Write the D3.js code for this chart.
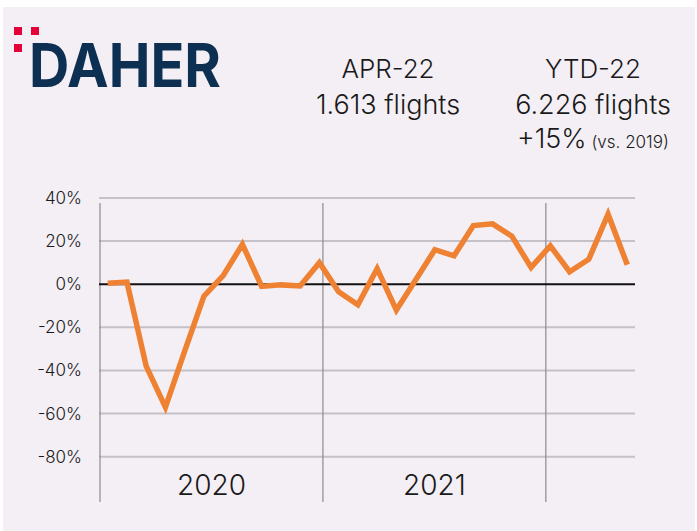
<!DOCTYPE html>
<html>
<head>
<meta charset="utf-8">
<script src="https://cdn.jsdelivr.net/npm/d3@7"></script>
<style>
  body { margin: 0; background: #ffffff; }
  svg { display: block; font-family: Inter, "Noto Sans", sans-serif; font-weight: 300; }
</style>
</head>
<body>
<svg id="chart"></svg>
<script>
// monthly change in flights vs 2019
var months = ["Jan-20","Feb-20","Mar-20","Apr-20","May-20","Jun-20","Jul-20","Aug-20","Sep-20","Oct-20","Nov-20","Dec-20",
  "Jan-21","Feb-21","Mar-21","Apr-21","May-21","Jun-21","Jul-21","Aug-21","Sep-21","Oct-21","Nov-21","Dec-21",
  "Jan-22","Feb-22","Mar-22","Apr-22"];
var changes = [0.5, 1, -38, -57, -31, -5.5, 4, 18.5, -1, -0.3, -0.8, 10,
  -3.5, -9.5, 7.2, -12, 2, 16, 13.2, 27.2, 28, 22.3, 7.8, 17.8,
  5.8, 11.6, 32.5, 9];
var years = ["2020", "2021", "2022"];
var yearLabels = ["2020", "2021"];
var yTicks = [40, 20, 0, -20, -40, -60, -80];

var width = 697, height = 531;

var svg = d3.select("#chart")
  .attr("width", width)
  .attr("height", height);

// background panel
svg.append("rect")
  .attr("x", 3).attr("y", 7)
  .attr("width", 692).attr("height", 524)
  .attr("fill", "#f3eff5");

// logo
svg.append("rect").attr("x", 14).attr("y", 27).attr("width", 8).attr("height", 8).attr("fill", "#e4003a");
svg.append("rect").attr("x", 31).attr("y", 27).attr("width", 8).attr("height", 8).attr("fill", "#e4003a");
svg.append("rect").attr("x", 14).attr("y", 44).attr("width", 8).attr("height", 8).attr("fill", "#e4003a");
svg.append("text")
  .attr("x", 29).attr("y", 87)
  .attr("textLength", 192)
  .attr("lengthAdjust", "spacingAndGlyphs")
  .style("font-family", "Inter, 'Liberation Sans', sans-serif")
  .style("font-weight", 700)
  .style("font-size", "61px")
  .attr("fill", "#0c2f52")
  .text("DAHER");

// header figures
var head = svg.append("g").attr("fill", "#1a1a1a").style("text-anchor", "middle");
head.append("text").attr("x", 388).attr("y", 78).style("font-size", "26px").text("APR-22");
head.append("text").attr("x", 388).attr("y", 114).style("font-size", "27px").text("1.613 flights");
head.append("text").attr("x", 593).attr("y", 78).style("font-size", "26px").text("YTD-22");
head.append("text").attr("x", 593).attr("y", 114).style("font-size", "27px").text("6.226 flights");
var ytd = head.append("text").attr("x", 593).attr("y", 148);
ytd.append("tspan").style("font-size", "27px").text("+15%");
ytd.append("tspan").style("font-size", "17px").text(" (vs. 2019)");

// scales
var left = 100, right = 635;
var x = d3.scalePoint().domain(months).range([left, right]).padding(0.4);
var xYear = d3.scaleBand().domain(years).range([left, left + (right - left) * 1.25]);
var y = d3.scaleLinear().domain([-80, 40]).range([456.7, 198]);

// horizontal gridlines
svg.append("g")
  .selectAll("line")
  .data(yTicks.filter(function(d) { return d !== 0; }))
  .enter()
  .append("line")
    .attr("x1", left - 1).attr("x2", right)
    .attr("y1", function(d) { return y(d); })
    .attr("y2", function(d) { return y(d); })
    .attr("stroke", "#c5c1c8")
    .attr("stroke-width", 2);

// year dividers
svg.append("g")
  .selectAll("line")
  .data(years)
  .enter()
  .append("line")
    .attr("x1", function(d) { return xYear(d); })
    .attr("x2", function(d) { return xYear(d); })
    .attr("y1", 203).attr("y2", 502)
    .attr("stroke", "#8c8a8e")
    .attr("stroke-width", 1.2);

// zero line
svg.append("line")
  .attr("x1", left - 1).attr("x2", right)
  .attr("y1", y(0)).attr("y2", y(0))
  .attr("stroke", "#111")
  .attr("stroke-width", 2);

// y axis labels
svg.append("g")
  .selectAll("text")
  .data(yTicks)
  .enter()
  .append("text")
    .attr("x", 82)
    .attr("y", function(d) { return y(d); })
    .attr("dy", "0.35em")
    .style("text-anchor", "end")
    .style("font-size", "17px")
    .attr("fill", "#1a1a1a")
    .text(function(d) { return d + "%"; });

// year labels
svg.append("g")
  .selectAll("text")
  .data(yearLabels)
  .enter()
  .append("text")
    .attr("x", function(d) { return xYear(d) + xYear.bandwidth() / 2; })
    .attr("y", 495)
    .style("text-anchor", "middle")
    .style("font-size", "28px")
    .attr("fill", "#1a1a1a")
    .text(function(d) { return d; });

// the line
var line = d3.line()
  .x(function(d, i) { return x(months[i]); })
  .y(function(d) { return y(d); });

svg.append("path")
  .datum(changes)
  .attr("d", line)
  .attr("fill", "none")
  .attr("stroke", "#ef8133")
  .attr("stroke-width", 5.5)
  .attr("stroke-linejoin", "miter");
</script>
</body>
</html>
